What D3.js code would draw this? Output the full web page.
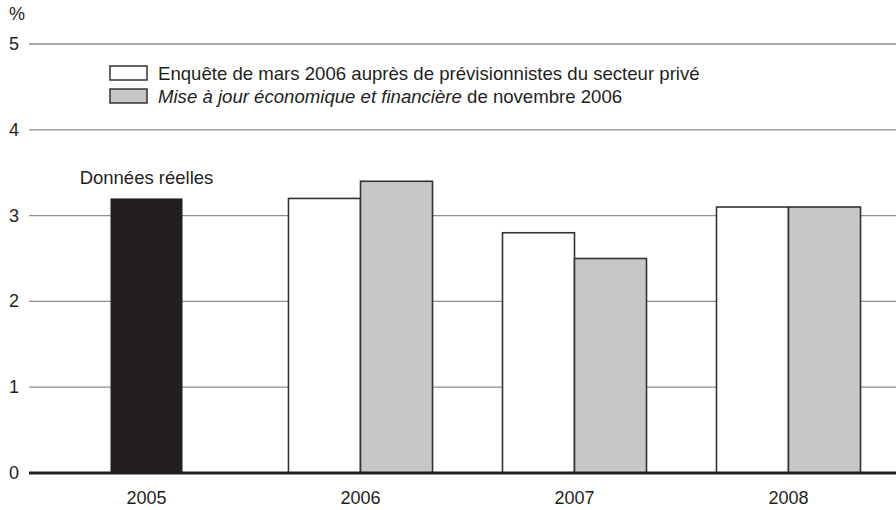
<!DOCTYPE html>
<html>
<head>
<meta charset="utf-8">
<script src="https://cdn.jsdelivr.net/npm/d3@7"></script>
<style>
  body { margin: 0; background: #fff; }
  svg { display: block; font-family: "Liberation Sans", Arial, Helvetica, sans-serif; }
  text { fill: #231f20; }
</style>
</head>
<body>
<div id="chart"></div>
<script>
(() => {
  const years = ["2005", "2006", "2007", "2008"];
  const actual = { "2005": 3.2 };
  const survey = [null, 3.2, 2.8, 3.1];
  const update = [null, 3.4, 2.5, 3.1];
  const yTicks = [0, 1, 2, 3, 4, 5];
  const legendLabels = [
    { key: "survey", parts: [{ t: "Enquête de mars 2006 auprès de prévisionnistes du secteur privé", i: false }] },
    { key: "update", parts: [{ t: "Mise à jour économique et financière", i: true }, { t: " de novembre 2006", i: false }] }
  ];
  const fills = { actual: "#231f20", survey: "#ffffff", update: "#c6c7c9" };

  const width = 896, height = 510;
  const svg = d3.select("#chart").append("svg")
    .attr("width", width).attr("height", height);

  const y = d3.scaleLinear().domain([0, 5]).range([473, 44]);
  const x = d3.scaleBand().domain(years).range([39.5, 895.5])
    .paddingInner(0.327).paddingOuter(0.1635);
  const sub = d3.scaleBand().domain(["survey", "update"]).range([0, x.bandwidth()]);

  // grid
  svg.selectAll(".grid").data(yTicks.filter((d) => d > 0)).join("line")
    .attr("x1", 29).attr("x2", width)
    .attr("y1", (d) => y(d)).attr("y2", (d) => y(d))
    .attr("stroke", "#8e8e8e").attr("stroke-width", 1.3);

  svg.selectAll(".ytick").data(yTicks).join("text")
    .attr("x", 9).attr("y", (d) => y(d))
    .attr("dominant-baseline", "central")
    .style("font-size", "18px")
    .text((d) => d);

  svg.append("text").attr("x", 9).attr("y", 14)
    .attr("dominant-baseline", "central")
    .style("font-size", "18px").text("%");

  // bars
  const rows = years.slice(1).map((yr, i) => ({ year: yr, survey: survey[i + 1], update: update[i + 1] }));
  const g = svg.selectAll(".grp").data(rows).join("g")
    .attr("transform", (d) => `translate(${x(d.year)},0)`);
  g.selectAll("rect").data((d) => ["survey", "update"].map((k) => ({ k, v: d[k] }))).join("rect")
    .attr("x", (d) => sub(d.k)).attr("width", sub.bandwidth())
    .attr("y", (d) => y(d.v)).attr("height", (d) => y(0) - y(d.v))
    .attr("fill", (d) => fills[d.k])
    .attr("stroke", "#333").attr("stroke-width", 1.6);

  const cx2005 = x("2005") + x.bandwidth() / 2;
  svg.append("rect")
    .attr("x", cx2005 - sub.bandwidth() / 2).attr("width", sub.bandwidth())
    .attr("y", y(actual["2005"])).attr("height", y(0) - y(actual["2005"]))
    .attr("fill", fills.actual);
  svg.append("text").attr("x", cx2005).attr("y", y(actual["2005"]) - 21)
    .attr("text-anchor", "middle").attr("dominant-baseline", "central")
    .style("font-size", "18.5px").text("Données réelles");

  // zero line
  svg.append("line").attr("x1", 29).attr("x2", width)
    .attr("y1", y(0)).attr("y2", y(0))
    .attr("stroke", "#231f20").attr("stroke-width", 3);

  svg.selectAll(".xtick").data(years).join("text")
    .attr("x", (d) => x(d) + x.bandwidth() / 2).attr("y", 498)
    .attr("text-anchor", "middle").attr("dominant-baseline", "central")
    .style("font-size", "18px").text((d) => d);

  // legend
  const lg = svg.selectAll(".leg").data(legendLabels).join("g")
    .attr("transform", (d, i) => `translate(110,${66 + i * 23})`);
  lg.append("rect").attr("width", 37).attr("height", 14)
    .attr("fill", (d) => fills[d.key]).attr("stroke", "#333").attr("stroke-width", 1.5);
  const lt = lg.append("text").attr("x", 48).attr("y", 7)
    .attr("dominant-baseline", "central").style("font-size", "18.6px");
  lt.selectAll("tspan").data((d) => d.parts).join("tspan")
    .style("font-style", (d) => d.i ? "italic" : "normal")
    .text((d) => d.t);
})();
</script>
</body>
</html>
